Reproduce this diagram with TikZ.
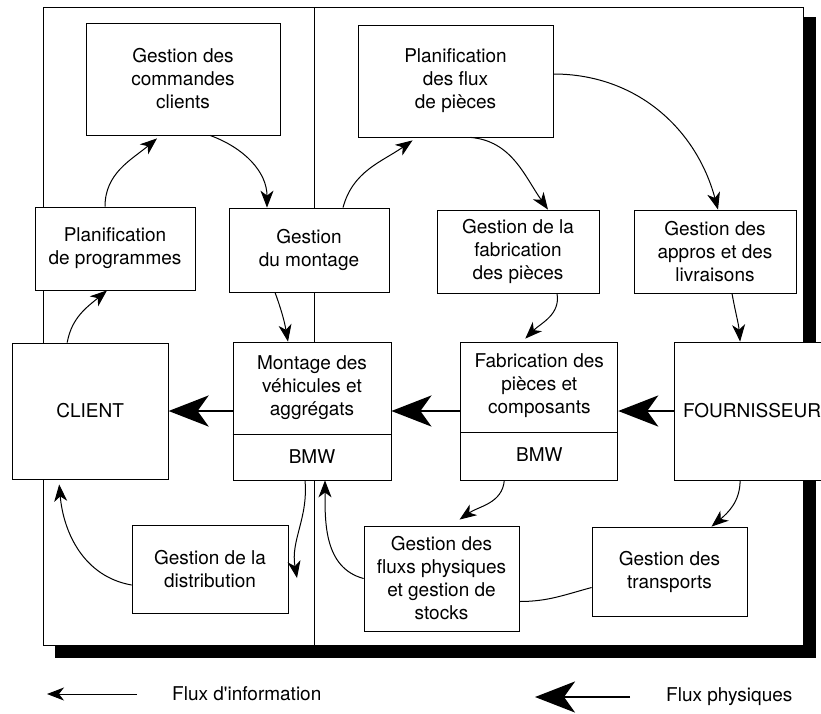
\documentclass[tikz,border=0pt]{standalone}
\usepackage{fontspec}
\setmainfont{TeX Gyre Heros}
\usetikzlibrary{positioning, arrows.meta}

\begin{document}
\begin{tikzpicture}[
    x=1pt, y=-1pt,
    % --- Styles ---
    box/.style={
        rectangle,
        draw=black,
        fill=white,
        line width=0.8pt,
        align=center,
        inner sep=0pt,
        font=\fontsize{19}{23}\selectfont
    },
    txt/.style={
        inner sep=0pt,
        align=center,
        font=\fontsize{19}{23}\selectfont
    },
    info/.style={
        -{Stealth[length=17pt, width=13pt, inset=5pt]},
        line width=1pt
    },
    flux/.style={
        -{Stealth[length=40pt, width=31pt, inset=11pt]},
        line width=2.8pt
    }
]
\useasboundingbox (0,0) rectangle (821,713);

% --- Frame with shadow ---
\fill[black] (55,17) rectangle (816,658);
\draw[fill=white, line width=0.8pt] (43,7) rectangle (803,645);
\draw[line width=0.8pt] (314,7) -- (314,645);

% --- Nodes (main row relative, others at coordinates) ---
\node[box, minimum width=158pt, minimum height=138pt] (montage) at (312,411) {};
\node[box, minimum width=156pt, minimum height=136pt, left=64pt of montage] (client) {CLIENT};
\node[box, minimum width=157pt, minimum height=138pt, right=69pt of montage] (fab) {};
\node[box, minimum width=155pt, minimum height=138pt, right=56pt of fab] (fourn) {FOURNISSEUR};

\node[txt] (montagetxt) at ([yshift=23pt]montage.center) {Montage des\\véhicules et\\aggrégats};
\node[txt] (montagebmw) at ([yshift=-46pt]montage.center) {BMW};
\draw[line width=0.8pt] ([yshift=-23pt]montage.west) -- ([yshift=-23pt]montage.east);

\node[txt] (fabtxt) at ([yshift=25pt]fab.center) {Fabrication des\\pièces et\\composants};
\node[txt] (fabbmw) at ([yshift=-44pt]fab.center) {BMW};
\draw[line width=0.8pt] ([yshift=-21pt]fab.west) -- ([yshift=-21pt]fab.east);

\node[box, minimum width=194pt, minimum height=112pt] (commandes) at (183,79) {Gestion des\\commandes\\clients};
\node[box, minimum width=160pt, minimum height=83pt] (prog) at (115,248.5) {Planification\\de programmes};
\node[box, minimum width=160pt, minimum height=84pt] (gestmontage) at (309,250) {Gestion\\du montage};
\node[box, minimum width=195pt, minimum height=112pt] (planflux) at (455.5,81) {Planification\\des flux\\de pièces};
\node[box, minimum width=162pt, minimum height=83pt] (gestfab) at (518,251.5) {Gestion de la\\fabrication\\des pièces};
\node[box, minimum width=162pt, minimum height=83pt] (appros) at (715,251.5) {Gestion des\\appros et des\\livraisons};
\node[box, minimum width=156pt, minimum height=88pt] (distrib) at (210,569) {Gestion de la\\distribution};
\node[box, minimum width=155pt, minimum height=105pt] (stocks) at (441.5,578.5) {Gestion des\\fluxs physiques\\et gestion de\\stocks};
\node[box, minimum width=155pt, minimum height=89pt] (transports) at (669.5,571.5) {Gestion des\\transports};

% --- Arrows: flux d'information ---
\draw[info] ([xshift=-10pt]prog.north) to[out=90, in=-140] ([xshift=-26pt, yshift=-3pt]commandes.south);
\draw[info] ([xshift=27pt]commandes.south) to[out=-20, in=90] ([xshift=-42pt]gestmontage.north);
\draw[info] ([xshift=34pt]gestmontage.north) to[out=75, in=-145] ([xshift=-43pt, yshift=-3pt]planflux.south);
\draw[info] ([xshift=15pt]planflux.south) to[out=-5, in=125] ([xshift=30pt]gestfab.north);
\draw[info] ([yshift=7pt]planflux.east) to[out=0, in=105] ([xshift=3pt]appros.north);
\draw[info] ([xshift=39pt]gestfab.south) to[out=-80, in=45] ([xshift=-14pt, yshift=3pt]fab.north);
\draw[info] ([xshift=17pt]appros.south) to[out=-80, in=95] ([xshift=-12pt]fourn.north);
\draw[info] ([xshift=-34pt]gestmontage.south) to[out=-70, in=100] ([xshift=-24pt]montage.north);
\draw[info] ([xshift=-23pt]client.north) to[out=80, in=-140] ([xshift=-8pt]prog.south);
\coordinate (distin) at (297,578);
\draw[info] ([xshift=-7pt]montage.south) to[out=-85, in=100] (distin);
\draw[info] (stocks.west) to[out=165, in=-90] ([xshift=13pt]montage.south);
\draw[info] ([yshift=-16pt]distrib.west) to[out=170, in=-85] ([xshift=-31pt, yshift=-5pt]client.south);
\draw[info] ([xshift=-12pt]fourn.south) to[out=-90, in=40] ([xshift=42pt]transports.north);
\draw[info] ([xshift=-35pt]fab.south) to[out=-95, in=35] ([xshift=18pt, yshift=6pt]stocks.north);
\draw[line width=1pt] ([yshift=-16pt]transports.west) to[out=195, in=0] ([yshift=-23pt]stocks.east);

% --- Arrows: flux physiques ---
\draw[flux] (montage) -- (client);
\draw[flux] (fab) -- (montage);
\draw[flux] (fourn) -- (fab);

% --- Legend ---
\coordinate (infostart) at (137,694);
\coordinate (infoend) at (47,694);
\draw[info] (infostart) -- (infoend);
\node[txt, right=35pt of infostart] (infotxt) {Flux d\textquotesingle information};
\coordinate (fluxstart) at (630,697);
\coordinate (fluxend) at (535,697);
\draw[flux] (fluxstart) -- (fluxend);
\node[txt, right=36pt of fluxstart] (fluxtxt) {Flux physiques};
\end{tikzpicture}
\end{document}
